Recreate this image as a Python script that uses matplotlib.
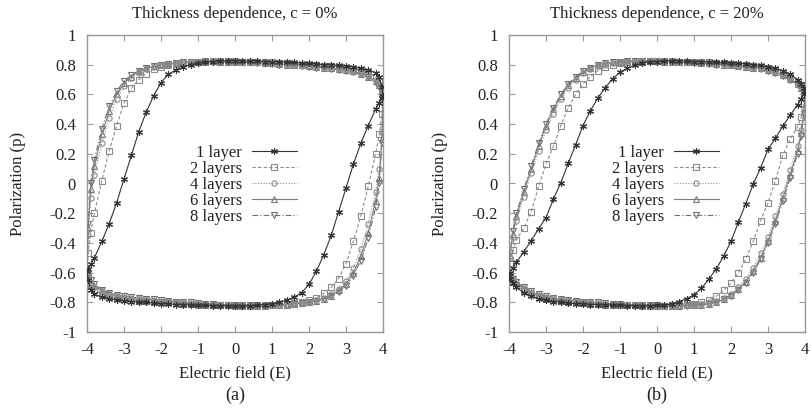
import matplotlib
matplotlib.use('Agg')
import matplotlib.pyplot as plt
from matplotlib.ticker import FixedLocator, FuncFormatter

# ---------------- data ----------------
# Upper branch of each loop (field swept from +4 down to -4); the lower
# branch is the point-mirrored copy (E -> -E, p -> -p) of the same readings.
E_UP = [4.0, 3.97, 3.9, 3.8, 3.6, 3.4, 3.2, 3.0, 2.8, 2.6, 2.4, 2.2, 2.0, 1.8,
        1.6, 1.4, 1.2, 1.0, 0.8, 0.6, 0.4, 0.2, 0.0, -0.2, -0.4, -0.6, -0.8,
        -1.0, -1.2, -1.4, -1.6, -1.8, -2.0, -2.2, -2.4, -2.6, -2.8, -3.0, -3.2,
        -3.4, -3.6, -3.8, -3.9, -3.97, -4.0]

LABELS = ["1 layer", "2 layers", "4 layers", "6 layers", "8 layers"]

# panel (a): c = 0%
A_1 = [0.59, 0.65, 0.72, 0.745, 0.765, 0.775, 0.785, 0.79, 0.795, 0.80, 0.80,
       0.805, 0.81, 0.81, 0.815, 0.815, 0.82, 0.82, 0.82, 0.825, 0.825, 0.825,
       0.825, 0.825, 0.825, 0.82, 0.815, 0.81, 0.80, 0.785, 0.765, 0.735, 0.68,
       0.59, 0.48, 0.35, 0.19, 0.03, -0.13, -0.27, -0.39, -0.50, -0.545,
       -0.575, -0.59]
A_2 = [0.59, 0.63, 0.69, 0.72, 0.745, 0.76, 0.77, 0.78, 0.785, 0.79, 0.79,
       0.795, 0.80, 0.80, 0.805, 0.81, 0.81, 0.815, 0.815, 0.82, 0.82, 0.82,
       0.825, 0.825, 0.825, 0.825, 0.82, 0.82, 0.815, 0.81, 0.805, 0.795,
       0.785, 0.77, 0.74, 0.70, 0.64, 0.54, 0.39, 0.22, 0.02, -0.20, -0.33,
       -0.47, -0.59]
A_4 = [0.59, 0.62, 0.67, 0.70, 0.73, 0.75, 0.76, 0.77, 0.775, 0.78, 0.785,
       0.79, 0.795, 0.80, 0.80, 0.805, 0.81, 0.81, 0.815, 0.815, 0.82, 0.82,
       0.82, 0.82, 0.825, 0.825, 0.825, 0.82, 0.82, 0.815, 0.81, 0.805, 0.795,
       0.785, 0.77, 0.745, 0.71, 0.655, 0.57, 0.44, 0.27, 0.06, -0.10, -0.35,
       -0.59]
A_6 = [0.59, 0.61, 0.66, 0.69, 0.72, 0.74, 0.755, 0.765, 0.77, 0.775, 0.78,
       0.785, 0.79, 0.795, 0.80, 0.80, 0.805, 0.81, 0.81, 0.815, 0.815, 0.82,
       0.82, 0.82, 0.82, 0.825, 0.825, 0.82, 0.82, 0.815, 0.81, 0.805, 0.80,
       0.79, 0.775, 0.755, 0.72, 0.675, 0.60, 0.49, 0.33, 0.12, -0.04, -0.30,
       -0.59]
A_8 = [0.59, 0.61, 0.65, 0.68, 0.715, 0.735, 0.75, 0.76, 0.765, 0.77, 0.775,
       0.78, 0.785, 0.79, 0.795, 0.80, 0.80, 0.805, 0.81, 0.81, 0.815, 0.815,
       0.82, 0.82, 0.82, 0.82, 0.825, 0.82, 0.82, 0.815, 0.81, 0.805, 0.80,
       0.79, 0.78, 0.76, 0.73, 0.69, 0.62, 0.52, 0.37, 0.16, 0.00, -0.27,
       -0.59]

# panel (b): c = 20%
B_1 = [0.62, 0.645, 0.67, 0.70, 0.735, 0.76, 0.775, 0.785, 0.795, 0.80, 0.805,
       0.81, 0.81, 0.815, 0.815, 0.82, 0.82, 0.82, 0.825, 0.825, 0.825, 0.825,
       0.82, 0.82, 0.81, 0.795, 0.775, 0.75, 0.705, 0.645, 0.575, 0.49, 0.39,
       0.26, 0.135, 0.005, -0.105, -0.23, -0.305, -0.385, -0.46, -0.53, -0.57,
       -0.60, -0.62]
B_2 = [0.62, 0.64, 0.66, 0.685, 0.72, 0.745, 0.765, 0.775, 0.785, 0.79, 0.795,
       0.80, 0.805, 0.81, 0.81, 0.815, 0.815, 0.82, 0.82, 0.82, 0.825, 0.825,
       0.825, 0.825, 0.82, 0.82, 0.815, 0.81, 0.80, 0.785, 0.76, 0.72, 0.67,
       0.60, 0.51, 0.39, 0.25, 0.13, -0.02, -0.19, -0.30, -0.38, -0.45, -0.54,
       -0.62]
B_4 = [0.62, 0.635, 0.65, 0.675, 0.71, 0.735, 0.755, 0.77, 0.78, 0.785, 0.79,
       0.795, 0.80, 0.805, 0.81, 0.81, 0.815, 0.815, 0.82, 0.82, 0.82, 0.825,
       0.825, 0.825, 0.825, 0.82, 0.82, 0.815, 0.81, 0.80, 0.79, 0.77, 0.745,
       0.70, 0.645, 0.57, 0.47, 0.36, 0.22, 0.07, -0.09, -0.25, -0.36, -0.50,
       -0.62]
B_6 = [0.62, 0.63, 0.645, 0.67, 0.705, 0.73, 0.75, 0.765, 0.775, 0.78, 0.785,
       0.79, 0.795, 0.80, 0.805, 0.81, 0.81, 0.815, 0.815, 0.82, 0.82, 0.82,
       0.825, 0.825, 0.825, 0.825, 0.82, 0.82, 0.815, 0.81, 0.80, 0.78, 0.75,
       0.71, 0.66, 0.59, 0.50, 0.39, 0.25, 0.10, -0.06, -0.22, -0.34, -0.48,
       -0.62]
B_8 = [0.62, 0.63, 0.64, 0.665, 0.70, 0.725, 0.745, 0.76, 0.77, 0.78, 0.785,
       0.79, 0.795, 0.80, 0.80, 0.805, 0.81, 0.81, 0.815, 0.815, 0.82, 0.82,
       0.82, 0.825, 0.825, 0.825, 0.825, 0.82, 0.815, 0.81, 0.80, 0.78, 0.755,
       0.72, 0.67, 0.60, 0.51, 0.40, 0.27, 0.12, -0.04, -0.20, -0.32, -0.47,
       -0.62]

X_TICKS = [-4, -3, -2, -1, 0, 1, 2, 3, 4]
Y_TICKS = [-1, -0.8, -0.6, -0.4, -0.2, 0, 0.2, 0.4, 0.6, 0.8, 1]
TITLES = ["Thickness dependence, c = 0%", "Thickness dependence, c = 20%"]
PANEL_TAGS = ["(a)", "(b)"]

# ---------------- styling ----------------
plt.rcParams['font.family'] = ['Liberation Serif', 'DejaVu Serif']
plt.rcParams['axes.unicode_minus'] = False
TXT = '#222222'
FRAME = '#9a9a9a'
FS = 12

STYLES = [
    dict(color='#333333', ls='-', marker=(6, 2, 0), ms=5.0, mew=0.8, zorder=6),
    dict(color='#8c8c8c', ls=(0, (3, 2)), marker='s', mfc='none', ms=3.8, mew=0.8, zorder=5),
    dict(color='#8c8c8c', ls=(0, (1, 1.5)), marker='o', mfc='none', ms=3.8, mew=0.8, zorder=4),
    dict(color='#7c7c7c', ls='-', marker='^', mfc='none', ms=3.8, mew=0.8, zorder=3),
    dict(color='#6e6e6e', ls=(0, (5, 2, 1, 2)), marker='v', mfc='none', ms=3.8, mew=0.8, zorder=2),
]


def full_loop(p_up):
    e = list(E_UP) + [-v for v in E_UP[1:]]
    p = list(p_up) + [-v for v in p_up[1:]]
    return e, p


fig = plt.figure(figsize=(8.11, 4.11), dpi=100)
W, H = 811.0, 411.0
axes_px = [(87.0, 35.0, 383.0, 332.0), (509.0, 35.0, 805.0, 332.0)]
panels = [[A_1, A_2, A_4, A_6, A_8], [B_1, B_2, B_4, B_6, B_8]]

for k, (x0, y0, x1, y1) in enumerate(axes_px):
    ax = fig.add_axes([x0 / W, 1 - y1 / H, (x1 - x0) / W, (y1 - y0) / H])
    for series, lab, st in zip(panels[k], LABELS, STYLES):
        e, p = full_loop(series)
        ax.plot(e, p, lw=0.8, label=lab, **st)
    ax.set_xlim(-4, 4)
    ax.set_ylim(-1, 1)
    ax.xaxis.set_major_locator(FixedLocator(X_TICKS))
    ax.yaxis.set_major_locator(FixedLocator(Y_TICKS))
    ax.xaxis.set_major_formatter(FuncFormatter(lambda v, pos: '%g' % v))
    ax.yaxis.set_major_formatter(FuncFormatter(lambda v, pos: '%g' % round(v, 2)))
    ax.tick_params(direction='in', top=True, right=True, length=4, width=0.8,
                   color=FRAME, labelsize=FS, labelcolor=TXT)
    ax.tick_params(axis='y', pad=8)
    ax.tick_params(axis='x', pad=7.5)
    for sp in ax.spines.values():
        sp.set_color(FRAME)
        sp.set_linewidth(1.0)
    ax.set_title(TITLES[k], fontsize=FS, color=TXT, pad=12)
    ax.set_xlabel("Electric field (E)", fontsize=FS, color=TXT)
    ax.xaxis.set_label_coords(0.5, -0.112)
    ax.set_ylabel("Polarization (p)", fontsize=FS, color=TXT)
    ax.yaxis.set_label_coords(-0.205, 0.5)
    ax.text(0.5, -0.214, PANEL_TAGS[k], transform=ax.transAxes, ha='center',
            va='center', fontsize=13, color=TXT)
    leg = ax.legend(loc='center right', bbox_to_anchor=(0.709, 0.495),
                    markerfirst=False, frameon=False, handlelength=2.7,
                    handletextpad=0.6, labelspacing=0.0, borderpad=0,
                    borderaxespad=0, fontsize=FS)
    for t in leg.get_texts():
        t.set_color(TXT)

fig.savefig('out.png', dpi=100)
